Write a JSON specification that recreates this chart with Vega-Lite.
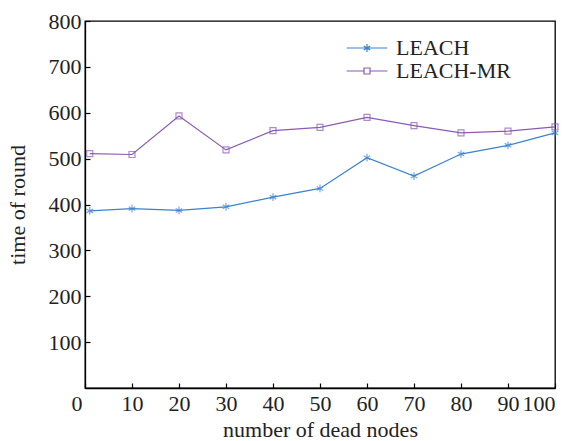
{
  "$schema": "https://vega.github.io/schema/vega-lite/v6.json",
  "width": 470,
  "height": 367,
  "autosize": "none",
  "padding": {"left": 85, "top": 21, "right": 20, "bottom": 53},
  "background": "white",
  "config": {
    "view": {"stroke": "black", "strokeWidth": 1.3},
    "font": "Liberation Serif",
    "axis": {
      "grid": false,
      "domainColor": "black",
      "domainWidth": 1.3,
      "tickColor": "black",
      "tickWidth": 1.2,
      "tickSize": -5,
      "labelFont": "Liberation Serif",
      "labelFontSize": 22,
      "labelColor": "#222",
      "titleFont": "Liberation Serif",
      "titleFontSize": 22,
      "titleFontWeight": "normal",
      "titleColor": "#222"
    }
  },
  "data": {
    "values": [
      {"x": 1, "y": 386, "s": "LEACH"},
      {"x": 10, "y": 391, "s": "LEACH"},
      {"x": 20, "y": 387, "s": "LEACH"},
      {"x": 30, "y": 395, "s": "LEACH"},
      {"x": 40, "y": 416, "s": "LEACH"},
      {"x": 50, "y": 435, "s": "LEACH"},
      {"x": 60, "y": 502, "s": "LEACH"},
      {"x": 70, "y": 462, "s": "LEACH"},
      {"x": 80, "y": 510, "s": "LEACH"},
      {"x": 90, "y": 529, "s": "LEACH"},
      {"x": 100, "y": 556, "s": "LEACH"},
      {"x": 1, "y": 511, "s": "LEACH-MR"},
      {"x": 10, "y": 509, "s": "LEACH-MR"},
      {"x": 20, "y": 593, "s": "LEACH-MR"},
      {"x": 30, "y": 519, "s": "LEACH-MR"},
      {"x": 40, "y": 561, "s": "LEACH-MR"},
      {"x": 50, "y": 568, "s": "LEACH-MR"},
      {"x": 60, "y": 590, "s": "LEACH-MR"},
      {"x": 70, "y": 572, "s": "LEACH-MR"},
      {"x": 80, "y": 556, "s": "LEACH-MR"},
      {"x": 90, "y": 560, "s": "LEACH-MR"},
      {"x": 100, "y": 569, "s": "LEACH-MR"}
    ]
  },
  "encoding": {
    "x": {
      "field": "x",
      "type": "quantitative",
      "scale": {"domain": [0, 100], "nice": false},
      "axis": {
        "title": "number of dead nodes",
        "values": [0, 10, 20, 30, 40, 50, 60, 70, 80, 90, 100],
        "labelPadding": 10,
        "labelOffset": {"condition": {"test": "datum.value === 0", "value": -14}, "value": 0},
        "titlePadding": 5
      }
    },
    "y": {
      "field": "y",
      "type": "quantitative",
      "scale": {"domain": [0, 800], "nice": false},
      "axis": {
        "title": "time of round",
        "values": [100, 200, 300, 400, 500, 600, 700, 800],
        "labelPadding": 9,
        "titlePadding": 19
      }
    },
    "color": {
      "field": "s",
      "type": "nominal",
      "scale": {"domain": ["LEACH", "LEACH-MR"], "range": ["#3b82cf", "#8b5ab5"]}
    }
  },
  "layer": [
    {
      "mark": {"type": "line", "strokeWidth": 1.2},
      "encoding": {
        "color": {
          "field": "s",
          "type": "nominal",
          "legend": {
            "title": null,
            "orient": "none",
            "legendX": 271,
            "legendY": 16,
            "padding": 0,
            "symbolSize": 36,
            "symbolStrokeWidth": 1.2,
            "symbolFillColor": "transparent",
            "labelFont": "Liberation Serif",
            "labelFontSize": 22,
            "labelColor": "#222",
            "labelOffset": 18,
            "rowPadding": 1,
            "encode": {
              "symbols": {
                "update": {
                  "shape": {"signal": "datum.value === 'LEACH' ? 'M-6.8,0H6.8M0,-1.3V1.3M-1.1,-0.65L1.1,0.65M-1.1,0.65L1.1,-0.65' : 'M-6.8,0H-1M1,0H6.8M-1,-1H1V1H-1Z'"},
                  "fill": {"value": "transparent"}
                }
              }
            }
          }
        }
      }
    },
    {
      "transform": [{"filter": "datum.s === 'LEACH'"}],
      "mark": {"type": "point", "filled": false, "strokeWidth": 1.2, "size": 36, "shape": "M0,-1.3V1.3M-1.1,-0.65L1.1,0.65M-1.1,0.65L1.1,-0.65"},
      "encoding": {
        "color": {"field": "s", "type": "nominal", "legend": null}
      }
    },
    {
      "transform": [{"filter": "datum.s === 'LEACH-MR'"}],
      "mark": {"type": "point", "filled": false, "strokeWidth": 1.2, "size": 36, "shape": "square"},
      "encoding": {
        "color": {"field": "s", "type": "nominal", "legend": null}
      }
    }
  ]
}
